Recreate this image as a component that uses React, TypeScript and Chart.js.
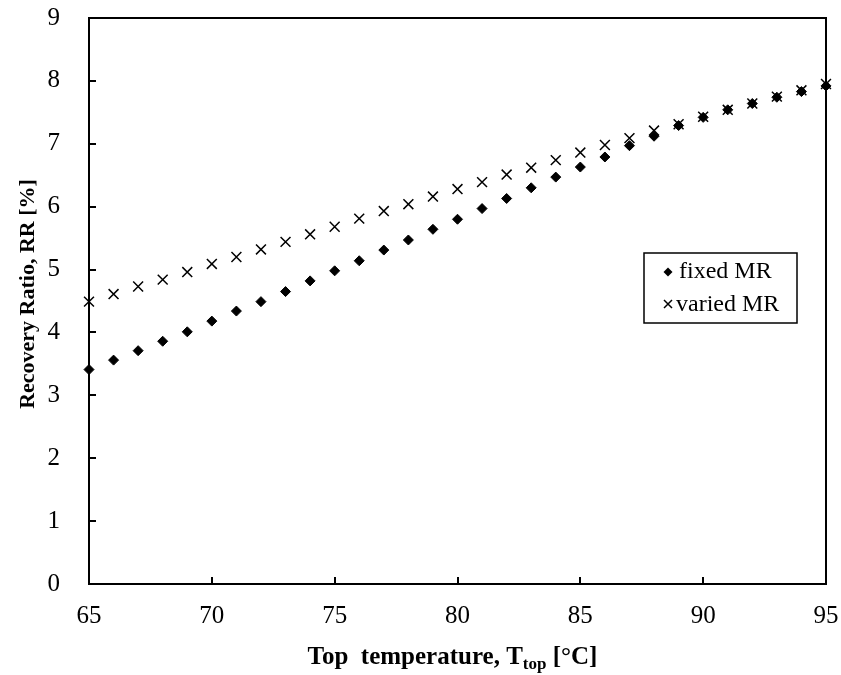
import React, { useEffect, useRef } from "react";
import { Chart, registerables } from "chart.js";

Chart.register(...registerables);

const temperatures = [65, 66, 67, 68, 69, 70, 71, 72, 73, 74, 75, 76, 77, 78, 79, 80, 81, 82, 83, 84, 85, 86, 87, 88, 89, 90, 91, 92, 93, 94, 95];
const fixedMR = [3.41, 3.56, 3.71, 3.86, 4.01, 4.18, 4.34, 4.49, 4.65, 4.82, 4.98, 5.14, 5.31, 5.47, 5.64, 5.8, 5.97, 6.13, 6.3, 6.47, 6.63, 6.79, 6.97, 7.12, 7.29, 7.42, 7.54, 7.64, 7.74, 7.83, 7.92];
const variedMR = [4.49, 4.61, 4.73, 4.84, 4.96, 5.09, 5.2, 5.32, 5.44, 5.56, 5.68, 5.81, 5.93, 6.04, 6.16, 6.28, 6.39, 6.51, 6.62, 6.74, 6.86, 6.98, 7.09, 7.21, 7.31, 7.43, 7.54, 7.64, 7.75, 7.85, 7.95];
const xTicks = [65, 70, 75, 80, 85, 90, 95];
const yTicks = [0, 1, 2, 3, 4, 5, 6, 7, 8, 9];
const seriesLabels = ["fixed MR", "varied MR"];
const yTitle = "Recovery Ratio, RR [%]";
const xTitleMain = "Top  temperature, T";
const xTitleSub = "top";
const xTitleEnd = " [°C]";

const SERIF = "'Liberation Serif', 'Times New Roman', serif";

const framePlugin = {
  id: "frameAndTicks",
  beforeDatasetsDraw(chart: any) {
    const { ctx, chartArea } = chart;
    const xs = chart.scales.x;
    const ys = chart.scales.y;
    ctx.save();
    ctx.strokeStyle = "#000";
    ctx.lineWidth = 2;
    ctx.strokeRect(chartArea.left, chartArea.top, chartArea.right - chartArea.left, chartArea.bottom - chartArea.top);
    ctx.beginPath();
    xTicks.forEach((v) => {
      if (v === xTicks[0] || v === xTicks[xTicks.length - 1]) return;
      const px = Math.round(xs.getPixelForValue(v));
      ctx.moveTo(px, chartArea.bottom);
      ctx.lineTo(px, chartArea.bottom - 7);
    });
    yTicks.forEach((v) => {
      if (v === yTicks[0] || v === yTicks[yTicks.length - 1]) return;
      const py = Math.round(ys.getPixelForValue(v));
      ctx.moveTo(chartArea.left, py);
      ctx.lineTo(chartArea.left + 7, py);
    });
    ctx.stroke();
    ctx.restore();
  },
  afterDraw(chart: any) {
    const { ctx, chartArea } = chart;
    ctx.save();
    // Legend box
    const bx = 644, by = 253, bw = 153, bh = 70;
    ctx.fillStyle = "#fff";
    ctx.fillRect(bx, by, bw, bh);
    ctx.strokeStyle = "#000";
    ctx.lineWidth = 1.5;
    ctx.strokeRect(bx, by, bw, bh);
    ctx.fillStyle = "#000";
    ctx.font = `24px ${SERIF}`;
    ctx.textBaseline = "middle";
    ctx.textAlign = "left";
    // diamond
    const dx = 668, dy = 272, r = 4.5;
    ctx.beginPath();
    ctx.moveTo(dx, dy - r);
    ctx.lineTo(dx + r, dy);
    ctx.lineTo(dx, dy + r);
    ctx.lineTo(dx - r, dy);
    ctx.closePath();
    ctx.fill();
    ctx.fillText(seriesLabels[0], 679, 272);
    // cross
    const cx = 668, cy = 304, c = 4;
    ctx.beginPath();
    ctx.moveTo(cx - c, cy - c);
    ctx.lineTo(cx + c, cy + c);
    ctx.moveTo(cx + c, cy - c);
    ctx.lineTo(cx - c, cy + c);
    ctx.lineWidth = 1.5;
    ctx.stroke();
    ctx.fillText(seriesLabels[1], 676, 305);

    // Y title
    ctx.save();
    ctx.translate(28, (chartArea.top + chartArea.bottom) / 2 - 7);
    ctx.rotate(-Math.PI / 2);
    ctx.font = `bold 22px ${SERIF}`;
    ctx.textAlign = "center";
    ctx.textBaseline = "middle";
    ctx.fillText(yTitle, 0, 0);
    ctx.restore();

    // X title with subscript
    const mainFont = `bold 25px ${SERIF}`;
    const subFont = `bold 17px ${SERIF}`;
    ctx.font = mainFont;
    const w1 = ctx.measureText(xTitleMain).width;
    const w3 = ctx.measureText(xTitleEnd).width;
    ctx.font = subFont;
    const w2 = ctx.measureText(xTitleSub).width;
    const total = w1 + w2 + w3;
    let x0 = (chartArea.left + chartArea.right) / 2 - total / 2 - 5;
    const base = 664;
    ctx.textAlign = "left";
    ctx.textBaseline = "alphabetic";
    ctx.font = mainFont;
    ctx.fillText(xTitleMain, x0, base);
    x0 += w1;
    ctx.font = subFont;
    ctx.fillText(xTitleSub, x0, base + 5);
    x0 += w2;
    ctx.font = mainFont;
    ctx.fillText(xTitleEnd, x0, base);
    ctx.restore();
  },
};

export default function App() {
  const ref = useRef<HTMLCanvasElement | null>(null);
  useEffect(() => {
    if (!ref.current) return;
    const chart = new Chart(ref.current, {
      type: "scatter",
      data: {
        datasets: [
          {
            label: seriesLabels[0],
            data: temperatures.map((t, i) => ({ x: t, y: fixedMR[i] })),
            pointStyle: "rectRot",
            pointRadius: 5,
            backgroundColor: "#000",
            borderColor: "#000",
            borderWidth: 1,
            clip: false as any,
          },
          {
            label: seriesLabels[1],
            data: temperatures.map((t, i) => ({ x: t, y: variedMR[i] })),
            pointStyle: "crossRot",
            pointRadius: 7,
            backgroundColor: "#000",
            borderColor: "#000",
            borderWidth: 1.5,
            clip: false as any,
          },
        ],
      },
      options: {
        animation: false,
        responsive: false,
        maintainAspectRatio: false,
        layout: { padding: { top: 18, right: 15, left: 0, bottom: 0 } },
        plugins: {
          legend: { display: false },
          tooltip: { enabled: false },
        },
        scales: {
          x: {
            type: "linear",
            min: 65,
            max: 95,
            afterBuildTicks: (s: any) => {
              s.ticks = xTicks.map((v) => ({ value: v }));
            },
            afterFit: (s: any) => {
              s.height = 91;
              s.paddingLeft = 0;
              s.paddingRight = 0;
            },
            grid: { display: false },
            border: { display: false },
            ticks: {
              padding: 9,
              color: "#000",
              font: { family: SERIF, size: 25 },
              maxRotation: 0,
            },
          },
          y: {
            type: "linear",
            min: 0,
            max: 9,
            afterBuildTicks: (s: any) => {
              s.ticks = yTicks.map((v) => ({ value: v }));
            },
            afterFit: (s: any) => {
              s.width = 89;
              s.paddingTop = 0;
              s.paddingBottom = 0;
            },
            grid: { display: false },
            border: { display: false },
            ticks: {
              padding: 21,
              color: "#000",
              font: { family: SERIF, size: 25 },
            },
          },
        },
      },
      plugins: [framePlugin],
    });
    return () => chart.destroy();
  }, []);
  return (
    <div style={{ position: "absolute", left: 0, top: 0, width: 841, height: 675, background: "#fff" }}>
      <canvas ref={ref} width={841} height={675} style={{ width: 841, height: 675, display: "block" }} />
    </div>
  );
}
